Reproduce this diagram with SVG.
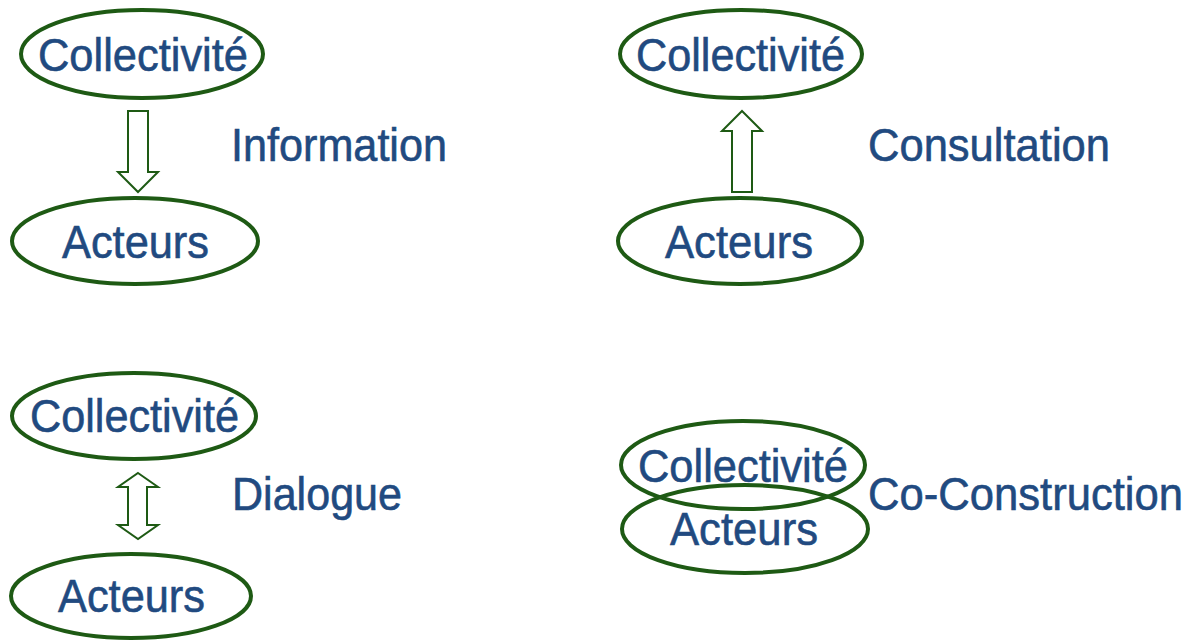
<svg xmlns="http://www.w3.org/2000/svg" width="1196" height="641" viewBox="0 0 1196 641">
<style>
.n{fill:none;stroke:#1e5a14;stroke-width:4}
.t{font-family:"Liberation Sans",Arial,sans-serif;font-size:47px;fill:#214a80;stroke:#214a80;stroke-width:0.6}
.a{fill:#fff;stroke:#1e5a14;stroke-width:2}
</style>
<rect width="1196" height="641" fill="#fff"/>
<g id="info-collectivite"><ellipse class="n" cx="142" cy="54" rx="121" ry="44"/><text class="t" x="38" y="71" textLength="210" lengthAdjust="spacingAndGlyphs">Collectivité</text></g>
<g id="info-acteurs"><ellipse class="n" cx="135" cy="241" rx="123" ry="43"/><text class="t" x="62" y="258" textLength="147" lengthAdjust="spacingAndGlyphs">Acteurs</text></g>
<g id="cons-collectivite"><ellipse class="n" cx="741" cy="54" rx="121" ry="44"/><text class="t" x="636" y="71" textLength="209" lengthAdjust="spacingAndGlyphs">Collectivité</text></g>
<g id="cons-acteurs"><ellipse class="n" cx="740" cy="241" rx="122" ry="43"/><text class="t" x="665" y="258" textLength="148" lengthAdjust="spacingAndGlyphs">Acteurs</text></g>
<g id="dial-collectivite"><ellipse class="n" cx="134" cy="416" rx="122" ry="43"/><text class="t" x="30" y="432" textLength="209" lengthAdjust="spacingAndGlyphs">Collectivité</text></g>
<g id="dial-acteurs"><ellipse class="n" cx="131" cy="596" rx="120" ry="42"/><text class="t" x="58" y="612" textLength="147" lengthAdjust="spacingAndGlyphs">Acteurs</text></g>
<g id="co-collectivite"><ellipse class="n" cx="743" cy="465" rx="122" ry="44"/><text class="t" x="638" y="482" textLength="210" lengthAdjust="spacingAndGlyphs">Collectivité</text></g>
<g id="co-acteurs"><ellipse class="n" cx="745" cy="529" rx="123" ry="44"/><text class="t" x="670" y="545" textLength="148" lengthAdjust="spacingAndGlyphs">Acteurs</text></g>
<g id="labels">
<text class="t" x="231" y="161" textLength="216" lengthAdjust="spacingAndGlyphs">Information</text>
<text class="t" x="868" y="161" textLength="242" lengthAdjust="spacingAndGlyphs">Consultation</text>
<text class="t" x="232" y="510" textLength="170" lengthAdjust="spacingAndGlyphs">Dialogue</text>
<text class="t" x="868" y="510" textLength="315" lengthAdjust="spacingAndGlyphs">Co-Construction</text>
</g>
<g id="connectors">
<path class="a" d="M128,111 H148 V172 H158 L138,192 L118,172 H128 Z"/>
<path class="a" d="M742,111 L762,131 H752 V192 H732 V131 H722 Z"/>
<path class="a" d="M138,473 L158,487 H147 V525 H158 L138,539 L118,525 H128 V487 H118 Z"/>
</g>
</svg>
